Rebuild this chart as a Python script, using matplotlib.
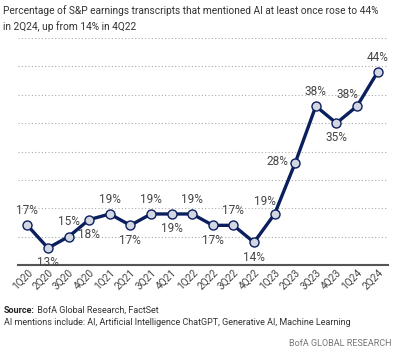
import numpy as np
import matplotlib.pyplot as plt

quarters = ['1Q20', '2Q20', '3Q20', '4Q20', '1Q21', '2Q21', '3Q21', '4Q21', '1Q22',
            '2Q22', '3Q22', '4Q22', '1Q23', '2Q23', '3Q23', '4Q23', '1Q24', '2Q24']
share = [17, 13, 15, 18, 19, 17, 19, 19, 19, 17, 17, 14, 19, 28, 38, 35, 38, 44]
# where each value label sits relative to its point
label_pos = ['up', 'down', 'up', 'down', 'up', 'down', 'up', 'down', 'up',
             'down', 'up', 'down', 'upleft', 'left', 'up', 'down', 'upleft', 'up']

plt.rcParams['font.family'] = ['Roboto', 'DejaVu Sans']

navy = '#0b1f5e'
grey = '#444444'

fig = plt.figure(figsize=(4.02, 3.52), dpi=100)
ax = fig.add_axes([0.045, 0.247, 0.92, 0.645])

x = np.arange(len(quarters))
ax.plot(x, share, c=navy, lw=2.4, marker='o', ms=6.5, mfc='#d3d7e2', mec=navy, mew=1.0, zorder=3)

offsets = {'up': (0, 6, 'center', 'bottom'), 'down': (0, -6, 'center', 'top'),
           'upleft': (-7, 4, 'center', 'bottom'), 'left': (-5, 1, 'right', 'center')}
for xi, v, p in zip(x, share, label_pos):
    dx, dy, ha, va = offsets[p]
    ax.annotate(f'{v}%', (xi, v), xytext=(dx, dy), textcoords='offset points',
                ha=ha, va=va, fontsize=8.5, color=grey)

ax.set_ylim(10, 50)
ax.set_xlim(-0.45, 17.5)
ax.set_yticks(np.arange(15, 51, 5))
ax.yaxis.grid(True, ls=(0, (1, 2)), color='#aaaaaa', lw=0.8)
ax.tick_params(axis='y', left=False, labelleft=False)
ax.tick_params(axis='x', length=0, pad=2, labelsize=7.3, labelcolor=grey)
ax.set_xticks(x)
ax.set_xticklabels(quarters, rotation=45, ha='right', rotation_mode='anchor')
for s in ['top', 'right', 'left']:
    ax.spines[s].set_visible(False)
ax.spines['bottom'].set_color('#555555')
ax.spines['bottom'].set_linewidth(1.5)

fig.text(0.008, 0.985, 'Percentage of S&P earnings transcripts that mentioned AI at least once rose to 44%\nin 2Q24, up from 14% in 4Q22',
         ha='left', va='top', fontsize=7.3, color='#333333', linespacing=1.5)
src = fig.text(0.01, 0.105, 'Source:', fontsize=6.5, color='#222222', va='bottom', fontweight='bold')
ax.annotate(' BofA Global Research, FactSet', xy=(1, 0), xycoords=src, va='bottom',
            fontsize=6.5, color='#333333', annotation_clip=False)
fig.text(0.01, 0.07, 'AI mentions include: AI, Artificial Intelligence ChatGPT, Generative AI, Machine Learning',
         fontsize=6.5, color='#333333', va='bottom')
fig.text(0.975, 0.01, 'BofA GLOBAL RESEARCH', fontsize=6.5, color='#777777', ha='right', va='bottom')

plt.savefig('out.png')
